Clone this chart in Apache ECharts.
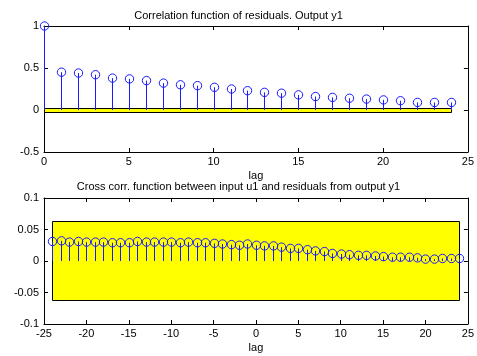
<!DOCTYPE html>
<html>
<head>
<meta charset="utf-8">
<script src="https://cdn.jsdelivr.net/npm/echarts@6/dist/echarts.min.js"></script>
<style>
  html, body { margin: 0; padding: 0; background: #fff; }
  #chart { width: 477px; height: 356px; }
</style>
</head>
<body>
<div id="chart"></div>
<script>
// autocorrelation of residuals, lags 0..24
const acfLags = [0, 1, 2, 3, 4, 5, 6, 7, 8, 9, 10, 11, 12, 13, 14, 15, 16, 17, 18, 19, 20, 21, 22, 23, 24];
const acfValues = [1, 0.45, 0.44, 0.42, 0.38, 0.37, 0.35, 0.32, 0.30, 0.29, 0.27, 0.25, 0.23,
  0.21, 0.20, 0.18, 0.16, 0.15, 0.14, 0.13, 0.12, 0.11, 0.09, 0.09, 0.09];
const acfConf = [0, 24, -0.024, 0.024]; // x from, x to, lower, upper

// cross correlation u1 -> residuals, lags -24..24
const ccfLags = [-24, -23, -22, -21, -20, -19, -18, -17, -16, -15, -14, -13, -12, -11, -10, -9, -8, -7,
  -6, -5, -4, -3, -2, -1, 0, 1, 2, 3, 4, 5, 6, 7, 8, 9, 10, 11, 12, 13, 14, 15, 16, 17, 18, 19, 20, 21, 22, 23, 24];
const ccfValues = [0.031, 0.032, 0.030, 0.031, 0.030, 0.030, 0.030, 0.029, 0.029, 0.029, 0.031, 0.030,
  0.030, 0.030, 0.030, 0.029, 0.030, 0.029, 0.029, 0.028, 0.027, 0.026, 0.025, 0.027,
  0.025, 0.024, 0.024, 0.022, 0.020, 0.020, 0.018, 0.016, 0.015, 0.012, 0.011, 0.010,
  0.009, 0.009, 0.008, 0.007, 0.006, 0.006, 0.006, 0.005, 0.003, 0.003, 0.004, 0.004, 0.004];
const ccfConf = [-24, 24, -0.063, 0.063];

const titles = [
  "Correlation function of residuals. Output y1",
  "Cross corr. function between input u1 and residuals from output y1",
];

const FONT = "Liberation Sans, Arial, sans-serif";
const BLUE = "#1a1aff";

const chart = echarts.init(document.getElementById("chart"), null, { renderer: "canvas" });

function box(gridIndex, pos, min, max, interval, showLabel, isX, fmt) {
  return {
    type: "value",
    gridIndex,
    position: pos,
    min, max, interval,
    axisLine: { show: true, onZero: false, lineStyle: { color: "#000", width: 1 } },
    axisTick: { show: true, inside: true, length: 4, lineStyle: { color: "#000" } },
    axisLabel: {
      show: showLabel, color: "#000", fontSize: 11, fontFamily: FONT,
      margin: isX ? 4 : 5, formatter: fmt,
    },
    splitLine: { show: false },
  };
}

const fmt2 = (v) => String(+v.toFixed(2));

function stemItem(params, api) {
  const x = api.value(0), y = api.value(1);
  const p0 = api.coord([x, 0]);
  const p1 = api.coord([x, y]);
  const px = Math.round(p0[0]) + 0.5;
  return {
    type: "group",
    children: [
      { type: "line", shape: { x1: px, y1: p0[1], x2: px, y2: p1[1] }, style: { stroke: BLUE, lineWidth: 1 } },
      { type: "circle", shape: { cx: px, cy: p1[1], r: 4.2 }, style: { fill: null, stroke: BLUE, lineWidth: 1 } },
    ],
  };
}

function bandItem(params, api) {
  const a = api.coord([api.value(0), api.value(3)]);
  const b = api.coord([api.value(1), api.value(2)]);
  const x = Math.round(a[0]) + 0.5, y = Math.round(a[1]) + 0.5;
  return {
    type: "rect",
    shape: { x, y, width: Math.round(b[0] - a[0]), height: Math.round(b[1] - a[1]) },
    style: { fill: "#ffff00", stroke: "#000", lineWidth: 1 },
  };
}

chart.setOption({
  animation: false,
  backgroundColor: "#fff",
  title: [
    { text: titles[0], left: "center", top: 5, textStyle: { fontSize: 11, fontWeight: "normal", color: "#000", fontFamily: FONT } },
    { text: titles[1], left: "center", top: 176, textStyle: { fontSize: 11, fontWeight: "normal", color: "#000", fontFamily: FONT } },
  ],
  grid: [
    { left: 44, right: 8, top: 26, height: 126 },
    { left: 44, right: 8, top: 198, height: 126 },
  ],
  xAxis: [
    Object.assign(box(0, "bottom", 0, 25, 5, true, true), {
      name: "lag", nameLocation: "middle", nameGap: 18,
      nameTextStyle: { fontSize: 11, color: "#000", fontFamily: FONT },
    }),
    box(0, "top", 0, 25, 5, false, true),
    Object.assign(box(1, "bottom", -25, 25, 5, true, true), {
      name: "lag", nameLocation: "middle", nameGap: 18,
      nameTextStyle: { fontSize: 11, color: "#000", fontFamily: FONT },
    }),
    box(1, "top", -25, 25, 5, false, true),
  ],
  yAxis: [
    box(0, "left", -0.5, 1, 0.5, true, false, fmt2),
    box(0, "right", -0.5, 1, 0.5, false, false),
    box(1, "left", -0.1, 0.1, 0.05, true, false, fmt2),
    box(1, "right", -0.1, 0.1, 0.05, false, false),
  ],
  series: [
    { type: "custom", xAxisIndex: 0, yAxisIndex: 0, renderItem: bandItem, data: [acfConf], z: 1 },
    { type: "custom", xAxisIndex: 0, yAxisIndex: 0, renderItem: stemItem, clip: false, z: 2,
      data: acfLags.map((l, i) => [l, acfValues[i]]) },
    { type: "custom", xAxisIndex: 2, yAxisIndex: 2, renderItem: bandItem, data: [ccfConf], z: 1 },
    { type: "custom", xAxisIndex: 2, yAxisIndex: 2, renderItem: stemItem, clip: false, z: 2,
      data: ccfLags.map((l, i) => [l, ccfValues[i]]) },
  ],
});
</script>
</body>
</html>
